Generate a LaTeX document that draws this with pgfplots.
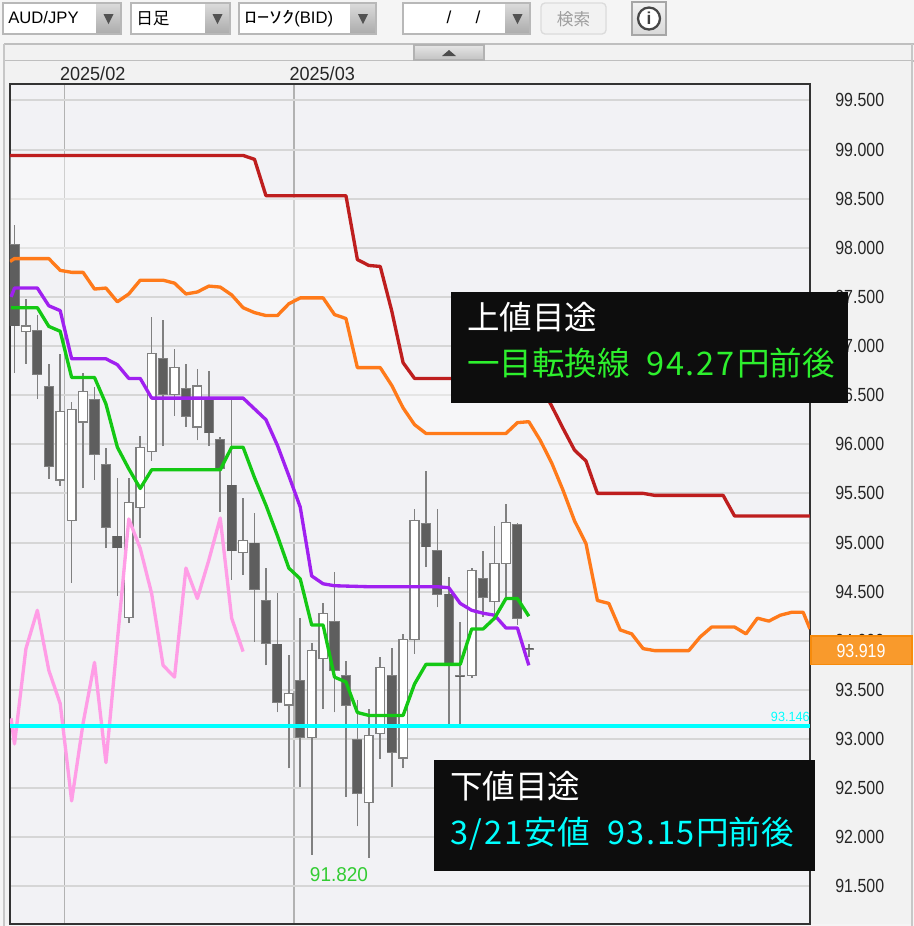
\documentclass[border=0pt]{standalone}
\usepackage{fontspec}
\usepackage{pgfplots}
\usepackage{pgfplotstable}
\pgfplotsset{compat=1.18}
\setmainfont{Liberation Sans}
\newfontfamily\cjk{Noto Sans CJK JP}
\newfontfamily\cjkd[LetterSpace=5]{Noto Sans CJK JP}
\newfontfamily\cjkw[FakeStretch=1.5]{Noto Sans CJK JP}
\newfontfamily\pricefont[FakeStretch=0.84]{Liberation Sans}
\newfontfamily\datefont[FakeStretch=0.95]{Liberation Sans}

\definecolor{chrome}{HTML}{F5F5F5}
\definecolor{panel}{HTML}{F2F2F2}
\definecolor{plotbg}{HTML}{F2F2F5}
\definecolor{gridc}{HTML}{D6D6D6}
\definecolor{wickc}{HTML}{808080}
\definecolor{bodyd}{HTML}{5E5E5E}
\definecolor{redl}{HTML}{BE1E1E}
\definecolor{orangel}{HTML}{FF7A1A}
\definecolor{purplel}{HTML}{A020F0}
\definecolor{greenl}{HTML}{14C814}
\definecolor{pinkl}{HTML}{FF9DE6}
\definecolor{cyanl}{HTML}{00FFFF}
\definecolor{boxc}{HTML}{0D0D0D}
\definecolor{tagf}{HTML}{F99A2C}
\definecolor{tagb}{HTML}{F78B0C}
\definecolor{lowl}{HTML}{33CC33}
\definecolor{greent}{HTML}{2DF02D}

% x = candle number, t = body top, b = body bottom
\pgfplotstableread{
i h t b l
0 98.23 98.04 97.20 96.73
2 97.32 97.16 96.71 96.46
3 96.82 96.59 95.77 95.65
7 96.58 96.46 95.89 95.64
8 95.96 95.80 95.15 94.94
9 95.66 95.07 94.94 94.46
13 97.26 96.88 96.50 95.98
15 96.82 96.57 96.28 96.18
17 96.75 96.48 96.11 95.98
18 96.07 96.05 95.75 95.31
19 96.47 95.59 94.91 94.62
21 95.30 95.00 94.52 93.99
22 94.74 94.41 93.97 93.75
23 94.49 93.97 93.37 93.27
25 94.23 93.60 93.01 92.51
28 94.70 94.20 93.69 93.27
29 93.79 93.65 93.34 92.41
30 93.40 93.00 92.44 92.11
33 93.93 93.65 92.86 92.51
36 95.73 95.20 94.95 94.75
37 95.34 94.92 94.47 94.34
38 94.65 94.48 93.74 93.14
39 94.19 93.65 93.63 93.14
41 94.91 94.64 94.44 94.24
44 95.20 95.19 94.22 94.16
45 93.97 93.93 93.91 93.83
}\darkc
\pgfplotstableread{
i h t b l
1 97.48 97.21 97.14 96.82
4 96.92 96.34 95.63 95.58
5 96.43 96.36 95.22 94.59
6 96.73 96.54 96.22 95.55
10 95.66 95.41 94.23 94.18
11 96.08 95.97 95.35 95.05
12 97.30 96.93 95.92 95.83
14 96.97 96.79 96.50 96.29
16 96.77 96.60 96.17 96.04
20 95.45 95.03 94.89 94.67
24 93.86 93.47 93.34 92.70
26 93.98 93.91 93.01 91.82
27 94.38 94.28 93.81 93.31
31 93.31 93.04 92.35 91.79
32 93.83 93.73 93.05 92.80
34 94.07 94.02 92.80 92.70
35 95.34 95.23 94.01 93.87
40 94.74 94.72 93.64 93.62
42 95.17 94.79 94.39 94.24
43 95.39 95.21 94.78 94.43
}\whitec

\pgfplotstableread{
x y
-0.394 98.94
20 98.94
21 98.90
22 98.53
29 98.53
30 97.88
31 97.82
32 97.81
33 97.36
34 96.83
35 96.67
45 96.67
46 96.60
47 96.39
48 96.16
49 95.94
50 95.83
51 95.50
55 95.50
56 95.48
62 95.48
63 95.27
69.6 95.27
}\redt
\pgfplotstableread{
x y
-0.394 97.86
0 97.89
3 97.89
4 97.77
5 97.75
6 97.75
7 97.58
8 97.59
9 97.45
10 97.53
11 97.67
13 97.67
14 97.64
15 97.53
16 97.55
17 97.61
18 97.60
19 97.52
20 97.39
21 97.34
22 97.31
23 97.31
24 97.43
25 97.49
27 97.49
28 97.32
29 97.28
30 96.78
32 96.78
33 96.60
34 96.37
35 96.20
36 96.11
43 96.11
44 96.22
45 96.23
46 96.04
47 95.81
48 95.53
49 95.22
50 94.99
51 94.41
52 94.38
53 94.11
54 94.07
55 93.92
56 93.90
59 93.90
60 94.04
61 94.14
63 94.14
64 94.07
65 94.23
66 94.20
67 94.26
68 94.29
69 94.29
69.6 94.12
}\oranget
% the band between the two spans: lower edge forward, upper edge back
\pgfplotstableread{
x y
-0.394 97.86
0 97.89
3 97.89
4 97.77
5 97.75
6 97.75
7 97.58
8 97.59
9 97.45
10 97.53
11 97.67
13 97.67
14 97.64
15 97.53
16 97.55
17 97.61
18 97.60
19 97.52
20 97.39
21 97.34
22 97.31
23 97.31
24 97.43
25 97.49
27 97.49
28 97.32
29 97.28
30 96.78
32 96.78
33 96.60
34 96.37
35 96.20
36 96.11
43 96.11
44 96.22
45 96.23
46 96.04
47 95.81
48 95.53
49 95.22
50 94.99
51 94.41
52 94.38
53 94.11
54 94.07
55 93.92
56 93.90
59 93.90
60 94.04
61 94.14
63 94.14
64 94.07
65 94.23
66 94.20
67 94.26
68 94.29
69 94.29
69.6 94.12
69.6 95.27
63 95.27
62 95.48
56 95.48
55 95.50
51 95.50
50 95.83
49 95.94
48 96.16
47 96.39
46 96.60
45 96.67
35 96.67
34 96.83
33 97.36
32 97.81
31 97.82
30 97.88
29 98.53
22 98.53
21 98.90
20 98.94
-0.394 98.94
}\kumot
\pgfplotstableread{
x y
-0.3 97.50
0 97.59
2 97.59
3 97.41
4 97.36
5 96.87
8 96.87
9 96.81
10 96.67
11 96.67
12 96.47
20 96.47
21 96.36
22 96.25
23 95.99
24 95.68
25 95.36
26 94.66
27 94.58
28 94.56
31 94.55
37 94.55
38 94.54
39 94.38
40 94.31
41 94.28
42 94.26
43 94.13
44 94.13
45 93.75
}\purplet
\pgfplotstableread{
x y
-0.3 97.39
2 97.39
3 97.20
4 97.15
5 96.68
7 96.68
8 96.41
9 95.97
10 95.75
11 95.55
12 95.74
18 95.74
19 95.97
20 95.97
21 95.66
22 95.38
23 95.07
24 94.74
25 94.63
26 94.16
27 94.16
28 93.63
29 93.58
30 93.27
31 93.24
34 93.24
35 93.56
36 93.76
39 93.76
40 94.12
41 94.12
42 94.23
43 94.43
44 94.43
45 94.25
}\greent
\pgfplotstableread{
x y
-0.3 93.21
0 92.95
1 93.92
2 94.31
3 93.70
4 93.36
5 92.37
6 93.16
7 93.78
8 92.76
9 94.00
10 95.24
11 94.94
12 94.48
13 93.75
14 93.63
15 94.74
16 94.43
17 94.82
18 95.25
19 94.23
20 93.89
}\pinkt

\newcommand\combo[3]{% left, arrow start, right
  \fill[white] (#1,3) rectangle (#3,34);
  \shade[top color=black!14, bottom color=black!33] (#2,3) rectangle (#3,34);
  \draw[black!28, line width=1pt] (#1,3) rectangle (#3,34);
  \fill[black!68] ({(#2+#3)/2-5},14) -- ({(#2+#3)/2+5},14) -- ({(#2+#3)/2},24) -- cycle;
}

\begin{document}
\begin{tikzpicture}
\begin{scope}[x=0.75pt,y=-0.75pt]
  \useasboundingbox (0,0) rectangle (914,926);
  \fill[chrome] (0,0) rectangle (914,926);
  \combo{3}{96}{121}
  \combo{131}{205}{230}
  \combo{239}{350}{376}
  \combo{403}{505}{530}
  \node[anchor=base west, inner sep=0pt, font=\fontsize{12.5pt}{14pt}\selectfont] at (8,23) {AUD/JPY};
  \node[anchor=base west, inner sep=0pt, font=\cjk\fontsize{12.5pt}{14pt}\selectfont] at (136,24) {日足};
  \node[anchor=base west, inner sep=0pt, font=\fontsize{12.5pt}{14pt}\selectfont] at (244,23) {{\cjkw ﾛｰｿｸ}(BID)};
  \node[anchor=base, inner sep=0pt, font=\fontsize{13pt}{14pt}\selectfont] at (449,23) {/};
  \node[anchor=base, inner sep=0pt, font=\fontsize{13pt}{14pt}\selectfont] at (478,23) {/};
  \draw[rounded corners=3pt, draw=black!14, fill=black!5, line width=1pt] (541,3) rectangle (606,34);
  \node[inner sep=0pt, text=black!38, font=\cjk\fontsize{12.5pt}{14pt}\selectfont] at (573.5,19) {検索};
  \shade[top color=black!5, bottom color=black!15] (632,2) rectangle (666,35);
  \draw[black!35, line width=1pt] (632,2) rectangle (666,35);
  \draw[black!72, fill=white, line width=1.7pt] (649,18.5) circle (11);
  \node[inner sep=0pt, text=black!75, font=\bfseries\fontsize{13pt}{14pt}\selectfont] at (649,18.5) {i};
  % collapse strip
  \fill[panel] (4,44) rectangle (912,61);
  \draw[black!25, line width=1pt] (4,44) -- (914,44) (4,61) -- (914,61);
  \shade[top color=black!10, bottom color=black!24] (414,45) rectangle (484,60);
  \draw[black!30, line width=0.8pt] (414,45) rectangle (484,60);
  \fill[black!70] (442,56) -- (456,56) -- (449,50) -- cycle;
  % chart panel
  \fill[panel] (4,61) rectangle (912,924);
  \draw[black!22, line width=1.2pt] (4,44) -- (4,926) (912,44) -- (912,926);
\end{scope}

\begin{axis}[
    at={(7.5pt,-693pt)}, anchor=south west,
    scale only axis, width=600pt, height=630pt,
    xmin=-0.394, xmax=69.6, ymin=91.117, ymax=99.667,
    axis background/.style={fill=plotbg},
    axis line style={draw=black!80, line width=1.3pt},
    major tick length=0pt,
    xtick={4.37,24.45}, xticklabels={2025/02,2025/03},
    xticklabel pos=upper,
    xticklabel style={font=\datefont\fontsize{14.25pt}{15pt}\selectfont, text=black!85, xshift=21.2pt, yshift=-0.75pt},
    ytick={91.5,92,92.5,93,93.5,94,94.5,95,95.5,96,96.5,97,97.5,98,98.5,99,99.5},
    yticklabel pos=right,
    yticklabel style={font=\pricefont\fontsize{14.25pt}{15pt}\selectfont, text=black!85, anchor=west, xshift=15.5pt,
      /pgf/number format/.cd, fixed, fixed zerofill, precision=3, assume math mode=true},
    xmajorgrids, ymajorgrids,
    x grid style={draw=black!30, line width=1.1pt},
    y grid style={draw=gridc, line width=1.5pt},
    no markers,
]
  % kumo between the two spans
  \addplot[fill=white, fill opacity=0.38, draw=none, forget plot] table[x=x,y=y] {\kumot} -- cycle;

  % wicks
  \addplot[draw=none, forget plot, error bars/.cd, y dir=plus, y explicit, error mark=none,
    error bar style={draw=wickc, line width=1.25pt}]
    table[x=i, y=l, y error expr=\thisrow{h}-\thisrow{l}] {\darkc};
  \addplot[draw=none, forget plot, error bars/.cd, y dir=plus, y explicit, error mark=none,
    error bar style={draw=wickc, line width=1.25pt}]
    table[x=i, y=l, y error expr=\thisrow{h}-\thisrow{l}] {\whitec};
  % bodies: an outer bar for the outline, an inner one for the fill
  \addplot[draw=none, forget plot, error bars/.cd, y dir=plus, y explicit, error mark=none,
    error bar style={draw=wickc, line width=7.6pt}]
    table[x=i, y=b, y error expr=\thisrow{t}-\thisrow{b}] {\darkc};
  \addplot[draw=none, forget plot, error bars/.cd, y dir=plus, y explicit, error mark=none,
    error bar style={draw=bodyd, line width=6.3pt}]
    table[x=i, y expr=\thisrow{b}+0.008, y error expr=\thisrow{t}-\thisrow{b}-0.016] {\darkc};
  \addplot[draw=none, forget plot, error bars/.cd, y dir=plus, y explicit, error mark=none,
    error bar style={draw=wickc, line width=7.6pt}]
    table[x=i, y=b, y error expr=\thisrow{t}-\thisrow{b}] {\whitec};
  \addplot[draw=none, forget plot, error bars/.cd, y dir=plus, y explicit, error mark=none,
    error bar style={draw=white, line width=5.4pt}]
    table[x=i, y expr=\thisrow{b}+0.012, y error expr=\thisrow{t}-\thisrow{b}-0.024] {\whitec};

  \addplot[redl, line width=2.5pt, line join=round] table[x=x,y=y] {\redt};
  \addplot[orangel, line width=2.5pt, line join=round] table[x=x,y=y] {\oranget};
  \addplot[pinkl, line width=2.5pt, line join=round] table[x=x,y=y] {\pinkt};
  \addplot[purplel, line width=2.5pt, line join=round] table[x=x,y=y] {\purplet};
  \addplot[greenl, line width=2.5pt, line join=round] table[x=x,y=y] {\greent};
  \addplot[cyanl, line width=3pt] coordinates {(-0.394,93.13) (69.6,93.13)};
\end{axis}

\begin{scope}[x=0.75pt,y=-0.75pt]
  \node[anchor=base, inner sep=0pt, text=lowl, font=\datefont\fontsize{15pt}{16pt}\selectfont] at (339,881) {91.820};
  \node[anchor=base east, inner sep=0pt, text=cyanl, font=\datefont\fontsize{10pt}{12pt}\selectfont] at (810,721) {93.146};
  % current price tag
  \draw[tagb, fill=tagf, line width=1pt] (811,636) rectangle (912,664.5);
  \node[anchor=base, inner sep=0pt, text=white, font=\pricefont\fontsize{14.25pt}{15pt}\selectfont] at (861,657) {93.919};
  % annotation boxes
  \fill[boxc] (451,292) rectangle (848,403);
  \node[anchor=base west, inner sep=0pt, text=white, font=\cjk\fontsize{24.4pt}{26pt}\selectfont] at (467,329) {上値目途};
  \node[anchor=base west, inner sep=0pt, text=greent, font=\cjk\fontsize{24.4pt}{26pt}\selectfont] at (467,375)
    {一目転換線\hspace{12.5pt}{\cjkd 94.27}\hspace{2pt}円前後};
  \fill[boxc] (434,760) rectangle (815,871);
  \node[anchor=base west, inner sep=0pt, text=white, font=\cjk\fontsize{24.4pt}{26pt}\selectfont] at (450,798) {下値目途};
  \node[anchor=base west, inner sep=0pt, text=cyanl, font=\cjk\fontsize{24.4pt}{26pt}\selectfont] at (450,844)
    {{\cjkd 3/21}\hspace{2pt}安値\hspace{13pt}{\cjkd 93.15}\hspace{1pt}円前後};
\end{scope}
\end{tikzpicture}
\end{document}
